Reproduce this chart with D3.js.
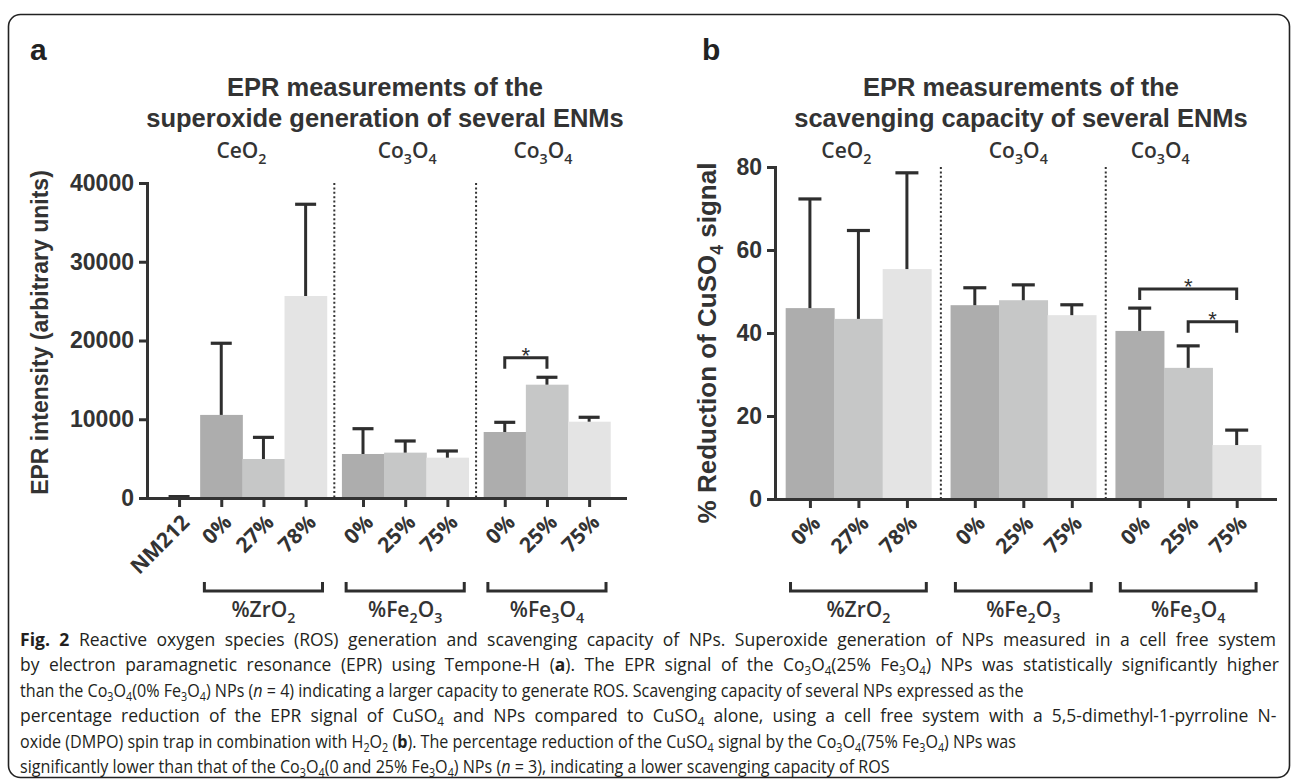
<!DOCTYPE html>
<html>
<head>
<meta charset="utf-8">
<script src="https://cdn.jsdelivr.net/npm/d3@7"></script>
<style>
  html, body { margin: 0; padding: 0; background: #fff; }
  svg { display: block; }
  .title { font-family: 'Liberation Sans', Arial, sans-serif; font-weight: bold; font-size: 25.5px; fill: #333; }
  .panel-label { font-family: 'Liberation Sans', Arial, sans-serif; font-weight: bold; font-size: 30px; fill: #222; }
  .head { font-family: 'Open Sans', sans-serif; font-weight: 600; font-size: 21px; fill: #333; }
  .ylab { font-family: 'Liberation Sans', Arial, sans-serif; font-weight: bold; fill: #333; }
  .axis text { font-family: 'Liberation Sans', Arial, sans-serif; font-weight: bold; font-size: 23px; fill: #333; }
  .axis path, .axis line { stroke: #333; stroke-width: 3; }
  .xlab { font-family: 'Open Sans', sans-serif; font-weight: 700; font-size: 21px; fill: #333; }
  .caption { font-family: 'Open Sans', sans-serif; font-size: 18px; fill: #231f20; }
</style>
</head>
<body>
<svg id="fig" width="1296" height="780"></svg>
<script>
// ---- panel a : superoxide generation (EPR intensity) ----
const labelsA = ['NM212', '0%', '27%', '78%', '0%', '25%', '75%', '0%', '25%', '75%'];
const groupOfA = [0, 0, 0, 0, 1, 1, 1, 2, 2, 2];
const shadeA = [0, 0, 1, 2, 0, 1, 2, 0, 1, 2];
const meanA = [60, 10550, 4950, 25650, 5590, 5760, 5120, 8380, 14390, 9690];
const errA = [120, 9100, 2750, 11650, 3210, 1480, 850, 1230, 940, 560];
const headersA = ['CeO2', 'Co3O4', 'Co3O4'];
const bracketsA = ['%ZrO2', '%Fe2O3', '%Fe3O4'];
const bracketBarsA = [[1, 3], [4, 6], [7, 9]];
const ticksA = [0, 10000, 20000, 30000, 40000];
const sigA = [[7, 8, 17800]];

// ---- panel b : scavenging capacity (% reduction) ----
const labelsB = ['0%', '27%', '78%', '0%', '25%', '75%', '0%', '25%', '75%'];
const groupOfB = [0, 0, 0, 1, 1, 1, 2, 2, 2];
const shadeB = [0, 1, 2, 0, 1, 2, 0, 1, 2];
const meanB = [46.0, 43.4, 55.4, 46.7, 47.9, 44.3, 40.5, 31.6, 13.0];
const errB = [26.3, 21.3, 23.2, 4.2, 3.7, 2.5, 5.5, 5.3, 3.6];
const headersB = ['CeO2', 'Co3O4', 'Co3O4'];
const bracketsB = ['%ZrO2', '%Fe2O3', '%Fe3O4'];
const bracketBarsB = [[0, 2], [3, 5], [6, 8]];
const ticksB = [0, 20, 40, 60, 80];
const sigB = [[6, 8, 50.6], [7, 8, 42.7]];

const shades = ['#adadad', '#c6c7c7', '#e4e4e4'];
const ink = '#2e2e2e';

const svg = d3.select('#fig');

// frame round the whole figure
svg.append('rect')
  .attr('x', 8.5).attr('y', 14.5)
  .attr('width', 1281).attr('height', 763)
  .attr('rx', 12)
  .attr('fill', 'none').attr('stroke', '#222').attr('stroke-width', 1.6);

// digits become subscripts (CeO2, Fe3O4 ...)
function formula(sel, str, size) {
  let down = false;
  str.match(/\d+|\D+/g).forEach(p => {
    const t = sel.append('tspan').text(p);
    if (/^\d+$/.test(p)) {
      t.attr('font-size', size * 0.68);
      if (!down) { t.attr('dy', size * 0.28); down = true; }
    } else if (down) {
      t.attr('dy', -size * 0.28);
      down = false;
    }
  });
}

function drawPanel(cfg) {
  const g = svg.append('g');
  const pos = cfg.groupOf.map((grp, i) => i + grp * cfg.gap);

  const x = d3.scaleLinear().domain(cfg.xDomain).range([cfg.left, cfg.right]);
  const y = d3.scaleLinear().domain([0, cfg.yMax]).range([cfg.bottom, cfg.top]);
  const slot = x(1) - x(0);

  // panel letter and title
  g.append('text').attr('class', 'panel-label')
    .attr('x', cfg.letterX).attr('y', 60).text(cfg.letter);
  cfg.title.forEach((line, i) => {
    g.append('text').attr('class', 'title')
      .attr('x', cfg.titleX).attr('y', 96 + i * 31)
      .attr('text-anchor', 'middle').text(line);
  });

  // bars
  g.selectAll('rect.bar').data(cfg.mean).join('rect')
    .attr('class', 'bar')
    .attr('x', (d, i) => x(pos[i]) - slot / 2)
    .attr('width', slot + 0.5)
    .attr('y', d => y(d))
    .attr('height', d => y(0) - y(d))
    .attr('fill', (d, i) => shades[cfg.shade[i]]);

  // upper error bars
  const eb = g.selectAll('g.err').data(cfg.mean).join('g').attr('class', 'err');
  eb.append('line')
    .attr('x1', (d, i) => x(pos[i])).attr('x2', (d, i) => x(pos[i]))
    .attr('y1', d => y(d)).attr('y2', (d, i) => y(d + cfg.err[i]))
    .attr('stroke', ink).attr('stroke-width', 3);
  eb.append('line')
    .attr('x1', (d, i) => x(pos[i]) - cfg.cap / 2).attr('x2', (d, i) => x(pos[i]) + cfg.cap / 2)
    .attr('y1', (d, i) => y(d + cfg.err[i])).attr('y2', (d, i) => y(d + cfg.err[i]))
    .attr('stroke', ink).attr('stroke-width', 3.2);

  // dotted separators between groups
  const firsts = d3.range(1, 3).map(k => cfg.groupOf.indexOf(k));
  firsts.forEach(i => {
    const sx = (x(pos[i - 1]) + x(pos[i])) / 2;
    g.append('line')
      .attr('x1', sx).attr('x2', sx)
      .attr('y1', y(cfg.yMax)).attr('y2', y(0))
      .attr('stroke', '#333').attr('stroke-width', 2)
      .attr('stroke-dasharray', '2,2.4');
  });

  // axes
  const yAxis = d3.axisLeft(y).tickValues(cfg.ticks).tickFormat(d3.format('d'))
    .tickSize(8).tickSizeOuter(0).tickPadding(5);
  g.append('g').attr('class', 'axis')
    .attr('transform', `translate(${cfg.left},0)`)
    .call(yAxis);

  const xAxis = d3.axisBottom(x).tickValues(pos).tickSize(9).tickSizeOuter(0).tickFormat('');
  g.append('g').attr('class', 'axis')
    .attr('transform', `translate(0,${cfg.bottom})`)
    .call(xAxis);
  g.selectAll('.axis path').attr('stroke-linecap', 'square');

  // rotated category labels
  g.selectAll('text.xlab').data(cfg.labels).join('text')
    .attr('class', 'xlab')
    .attr('text-anchor', 'end')
    .attr('dominant-baseline', 'central')
    .attr('transform', (d, i) => `translate(${x(pos[i]) + 6},${cfg.bottom + 20}) rotate(-45)`)
    .text(d => d);

  // brackets under the groups
  cfg.bracketBars.forEach(([a, b], k) => {
    const x1 = x(pos[a]) - slot * 0.4, x2 = x(pos[b]) + slot * 0.4;
    g.append('path')
      .attr('d', `M${x1},${cfg.brY - 9}V${cfg.brY}H${x2}V${cfg.brY - 9}`)
      .attr('fill', 'none').attr('stroke', ink).attr('stroke-width', 3);
    const t = g.append('text').attr('class', 'head')
      .attr('x', (x1 + x2) / 2).attr('y', cfg.brY + 26)
      .attr('text-anchor', 'middle');
    formula(t, cfg.brackets[k], 21);
  });

  // group headers
  cfg.headers.forEach((h, k) => {
    const idx = cfg.groupOf.map((grp, i) => grp === k ? i : -1).filter(i => i >= 0 && cfg.labels[i].endsWith('%'));
    const cx = (x(pos[idx[0]]) + x(pos[idx[idx.length - 1]])) / 2 + cfg.headShift[k];
    const t = g.append('text').attr('class', 'head')
      .attr('x', cx).attr('y', 158).attr('text-anchor', 'middle');
    formula(t, h, 21);
  });

  // significance brackets
  cfg.sig.forEach(([a, b, lv]) => {
    const x1 = x(pos[a]), x2 = x(pos[b]), yy = y(lv);
    g.append('path')
      .attr('d', `M${x1},${yy + 11}V${yy}H${x2}V${yy + 11}`)
      .attr('fill', 'none').attr('stroke', ink).attr('stroke-width', 3);
    g.append('text')
      .attr('x', (x1 + x2) / 2).attr('y', yy + 5)
      .attr('text-anchor', 'middle')
      .attr('font-family', 'Liberation Sans, Arial, sans-serif')
      .attr('font-size', 22).attr('fill', ink)
      .text('*');
  });

  // y axis title
  const yl = g.append('text').attr('class', 'ylab')
    .attr('font-size', cfg.yLabSize)
    .attr('text-anchor', 'middle')
    .attr('transform', `translate(${cfg.yLabX},${(cfg.top + cfg.bottom) / 2 + cfg.yLabShift}) rotate(-90)`);
  formula(yl, cfg.yLabel, cfg.yLabSize);
}

drawPanel({
  letter: 'a', letterX: 30, titleX: 385,
  title: ['EPR measurements of the', 'superoxide generation of several ENMs'],
  labels: labelsA, groupOf: groupOfA, shade: shadeA, mean: meanA, err: errA,
  headers: headersA, headShift: [-22, 2, -4],
  brackets: bracketsA, bracketBars: bracketBarsA, brY: 591,
  ticks: ticksA, yMax: 40000, sig: sigA,
  gap: 0.36, xDomain: [-0.76, 10.57],
  left: 147, right: 625, top: 183, bottom: 498, cap: 21,
  yLabel: 'EPR intensity (arbitrary units)', yLabX: 48, yLabSize: 23, yLabShift: -8
});

drawPanel({
  letter: 'b', letterX: 702, titleX: 1021,
  title: ['EPR measurements of the', 'scavenging capacity of several ENMs'],
  labels: labelsB, groupOf: groupOfB, shade: shadeB, mean: meanB, err: errB,
  headers: headersB, headShift: [-12, -5, -28],
  brackets: bracketsB, bracketBars: bracketBarsB, brY: 591,
  ticks: ticksB, yMax: 80, sig: sigB,
  gap: 0.4, xDomain: [-0.72, 9.59],
  left: 775, right: 1275, top: 167, bottom: 499, cap: 23,
  yLabel: '% Reduction of CuSO4 signal', yLabX: 716, yLabSize: 26, yLabShift: 10
});

// caption, with **bold**, _italic_ and ~sub~ marks
const captionLines = [
  '**Fig. 2** Reactive oxygen species (ROS) generation and scavenging capacity of NPs. Superoxide generation of NPs measured in a cell free system',
  'by electron paramagnetic resonance (EPR) using Tempone-H (**a**). The EPR signal of the Co~3~O~4~(25% Fe~3~O~4~) NPs was statistically significantly higher',
  'than the Co~3~O~4~(0% Fe~3~O~4~) NPs (_n_ = 4) indicating a larger capacity to generate ROS. Scavenging capacity of several NPs expressed as the',
  'percentage reduction of the EPR signal of CuSO~4~ and NPs compared to CuSO~4~ alone, using a cell free system with a 5,5-dimethyl-1-pyrroline N-',
  'oxide (DMPO) spin trap in combination with H~2~O~2~ (**b**). The percentage reduction of the CuSO~4~ signal by the Co~3~O~4~(75% Fe~3~O~4~) NPs was',
  'significantly lower than that of the Co~3~O~4~(0 and 25% Fe~3~O~4~) NPs (_n_ = 3), indicating a lower scavenging capacity of ROS'
];
const captionEnds = [1277, 1280, 1033, 1277, 1035, 866];
const captionFull = [true, true, false, true, false, false];

const capNodes = captionLines.map(line => {
  const t = svg.append('text').attr('class', 'caption');
  let down = false;
  line.split(/(\*\*[^*]+\*\*|_[^_]+_|~[^~]+~)/).filter(s => s).forEach(s => {
    const ts = t.append('tspan');
    if (s.startsWith('**')) ts.text(s.slice(2, -2)).attr('font-weight', 'bold');
    else if (s.startsWith('_')) ts.text(s.slice(1, -1)).attr('font-style', 'italic');
    else if (s.startsWith('~')) {
      ts.text(s.slice(1, -1)).attr('font-size', 12);
      if (!down) { ts.attr('dy', 4); down = true; }
      return;
    } else ts.text(s);
    if (down) { ts.attr('dy', -4); down = false; }
  });
  return t;
});

// common squeeze from the ragged lines; full lines get half by glyph width, half by word gaps
const widths = capNodes.map(t => t.node().getComputedTextLength());
const squeeze = d3.mean(captionLines.map((l, i) => i).filter(i => !captionFull[i]),
  i => (captionEnds[i] - 20) / widths[i]);

capNodes.forEach((t, i) => {
  let sx = squeeze;
  if (captionFull[i]) {
    const f = (captionEnds[i] - 20) / (widths[i] * squeeze);
    sx = squeeze * Math.sqrt(f);
    const spaces = t.text().split(' ').length - 1;
    const extra = (captionEnds[i] - 20) / sx - widths[i];
    t.attr('word-spacing', extra / spaces);
  }
  t.attr('transform', `translate(20,${646 + i * 25.4}) scale(${sx},1)`);
});
</script>
</body>
</html>
